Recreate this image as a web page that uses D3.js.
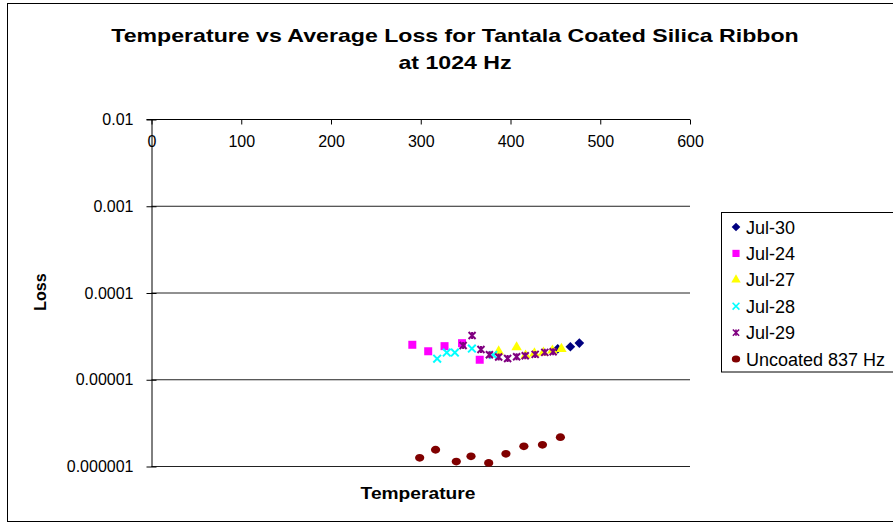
<!DOCTYPE html>
<html>
<head>
<meta charset="utf-8">
<script src="https://cdn.jsdelivr.net/npm/d3@7"></script>
<style>
  body { margin: 0; background: #fff; }
  svg { display: block; font-family: "Liberation Sans", Arial, sans-serif; }
  .axis path, .axis line { stroke: #000; }
  .axis text { font-size: 16px; fill: #000; }
</style>
</head>
<body>
<div id="chart"></div>
<script>
// Values
const seriesNames = ['Jul-30', 'Jul-24', 'Jul-27', 'Jul-28', 'Jul-29', 'Uncoated 837 Hz'];

const jul30Temp = [452.6, 466.7, 476.7];
const jul30Loss = [2.27e-5, 2.40e-5, 2.65e-5];

const jul24Temp = [290.6, 308.3, 326.5, 346.0, 365.7];
const jul24Loss = [2.53e-5, 2.13e-5, 2.44e-5, 2.64e-5, 1.70e-5];

const jul27Temp = [386.8, 406.8, 416.8, 426.7, 436.7, 446.7, 456.7];
const jul27Loss = [2.12e-5, 2.37e-5, 1.90e-5, 2.01e-5, 2.06e-5, 2.17e-5, 2.27e-5];

const jul28Temp = [318.3, 329.0, 338.0, 357.0, 380.7];
const jul28Loss = [1.75e-5, 2.06e-5, 2.06e-5, 2.29e-5, 1.93e-5];

const jul29Temp = [347.2, 357.2, 367.1, 376.5, 386.8, 396.8, 406.8, 416.4, 427.5, 438.2, 447.5];
const jul29Loss = [2.48e-5, 3.24e-5, 2.23e-5, 1.94e-5, 1.83e-5, 1.76e-5, 1.84e-5, 1.89e-5, 1.96e-5, 2.07e-5, 2.10e-5];

const uncoatedTemp = [298.8, 316.5, 339.6, 356.0, 375.7, 394.9, 414.9, 435.6, 455.6];
const uncoatedLoss = [1.26e-6, 1.56e-6, 1.14e-6, 1.31e-6, 1.10e-6, 1.40e-6, 1.71e-6, 1.78e-6, 2.18e-6];

const xTicks = [0, 100, 200, 300, 400, 500, 600];
const yTicks = [1e-6, 1e-5, 1e-4, 1e-3, 1e-2];
const yTickLabels = ['0.000001', '0.00001', '0.0001', '0.001', '0.01'];

const width = 893, height = 524;
const plot = { left: 151.5, right: 690, top: 119.5, bottom: 466.5 };

// Excel style "star" marker: an x with a vertical bar through it
const symbolStar = {
  draw(ctx, size) {
    const r = Math.sqrt(size) / 2;
    ctx.moveTo(-r, -r); ctx.lineTo(r, r);
    ctx.moveTo(r, -r); ctx.lineTo(-r, r);
    ctx.moveTo(0, -r); ctx.lineTo(0, r);
  }
};

const series = [
  { name: seriesNames[0], temp: jul30Temp, loss: jul30Loss, type: d3.symbolDiamond2, size: 60, fill: '#000080' },
  { name: seriesNames[1], temp: jul24Temp, loss: jul24Loss, type: d3.symbolSquare, size: 64, fill: '#ff00ff' },
  { name: seriesNames[2], temp: jul27Temp, loss: jul27Loss, type: d3.symbolTriangle, size: 48, fill: '#ffff00' },
  { name: seriesNames[3], temp: jul28Temp, loss: jul28Loss, type: d3.symbolTimes, size: 40, stroke: '#00ffff' },
  { name: seriesNames[4], temp: jul29Temp, loss: jul29Loss, type: symbolStar, size: 49, stroke: '#800080' },
  { name: seriesNames[5], temp: uncoatedTemp, loss: uncoatedLoss, ellipse: true, fill: '#800000' }
];

const svg = d3.select('#chart').append('svg')
  .attr('width', width)
  .attr('height', height);

// outer chart border (right side runs off the picture)
svg.append('rect')
  .attr('x', 7.5).attr('y', 3.5)
  .attr('width', 900).attr('height', 518)
  .attr('fill', 'none').attr('stroke', '#000');

const x = d3.scaleLinear().domain([0, 600]).range([plot.left, plot.right]);
const y = d3.scaleLog().domain([1e-6, 1e-2]).range([plot.bottom, plot.top]);

// horizontal gridlines at each decade
svg.append('g')
  .selectAll('line')
  .data(yTicks.slice(0, -1))
  .join('line')
  .attr('x1', plot.left).attr('x2', plot.right)
  .attr('y1', d => y(d)).attr('y2', d => y(d))
  .attr('stroke', '#222');

// the temperature axis sits at the top of the plot (y = 0.01)
const xAxis = svg.append('g')
  .attr('class', 'axis')
  .attr('transform', `translate(0, ${plot.top})`)
  .call(d3.axisBottom(x).tickValues(xTicks).tickSizeInner(5).tickSizeOuter(0).tickPadding(11).tickFormat(d => d));

const yAxis = svg.append('g')
  .attr('class', 'axis')
  .attr('transform', `translate(${plot.left}, 0)`)
  .call(d3.axisLeft(y).tickValues(yTicks).tickSizeInner(5).tickSizeOuter(0).tickPadding(13)
    .tickFormat((d, i) => yTickLabels[i]));
// ticks cross the axis line
yAxis.selectAll('.tick line').attr('x1', 5);
xAxis.select('.domain').attr('d', `M${plot.left - 5},0H${plot.right}`);

// series markers
const sym = d3.symbol();
series.forEach(s => {
  const pts = s.temp.map((t, i) => ({ t, l: s.loss[i] }));
  const g = svg.append('g');
  if (s.ellipse) {
    g.selectAll('ellipse')
      .data(pts)
      .join('ellipse')
      .attr('cx', d => x(d.t)).attr('cy', d => y(d.l))
      .attr('rx', 4.6).attr('ry', 3.9)
      .attr('fill', s.fill);
  } else {
    g.selectAll('path')
      .data(pts)
      .join('path')
      .attr('transform', d => `translate(${x(d.t)}, ${y(d.l)})`)
      .attr('d', sym.type(s.type).size(s.size)())
      .attr('fill', s.fill || 'none')
      .attr('stroke', s.stroke || 'none')
      .attr('stroke-width', s.stroke ? 2 : 0);
  }
});

// title (the picture is stretched sideways, so the title is too)
const title = svg.append('text')
  .attr('text-anchor', 'middle')
  .attr('font-weight', 'bold')
  .attr('font-size', 18.5)
  .attr('transform', `translate(455, 0) scale(1.25, 1)`);
title.append('tspan').attr('x', 0).attr('y', 42.5)
  .text('Temperature vs Average Loss for Tantala Coated Silica Ribbon');
title.append('tspan').attr('x', 0).attr('y', 69)
  .text('at 1024 Hz');

// axis titles
svg.append('text')
  .attr('text-anchor', 'middle')
  .attr('font-weight', 'bold')
  .attr('font-size', 16)
  .attr('transform', 'translate(418, 499) scale(1.2, 1)')
  .text('Temperature');

svg.append('text')
  .attr('text-anchor', 'middle')
  .attr('font-weight', 'bold')
  .attr('font-size', 16)
  .attr('transform', 'translate(45.5, 292) rotate(-90)')
  .text('Loss');

// legend
const legend = svg.append('g').attr('transform', 'translate(721.5, 212.5)');
legend.append('rect')
  .attr('width', 200).attr('height', 159.5)
  .attr('fill', '#fff').attr('stroke', '#000');

const item = legend.selectAll('.item')
  .data(series)
  .join('g')
  .attr('class', 'item')
  .attr('transform', (d, i) => `translate(0, ${14.5 + i * 26.4})`);

item.each(function (s) {
  const g = d3.select(this);
  if (s.ellipse) {
    g.append('ellipse').attr('cx', 14.5).attr('cy', 0).attr('rx', 4.2).attr('ry', 3.6).attr('fill', s.fill);
  } else {
    g.append('path')
      .attr('transform', 'translate(14.5, 0)')
      .attr('d', sym.type(s.type).size(s.size * 0.8)())
      .attr('fill', s.fill || 'none')
      .attr('stroke', s.stroke || 'none')
      .attr('stroke-width', s.stroke ? 1.6 : 0);
  }
  g.append('text')
    .attr('x', 24.5).attr('y', 6.5)
    .attr('font-size', 18)
    .text(s.name);
});
</script>
</body>
</html>
